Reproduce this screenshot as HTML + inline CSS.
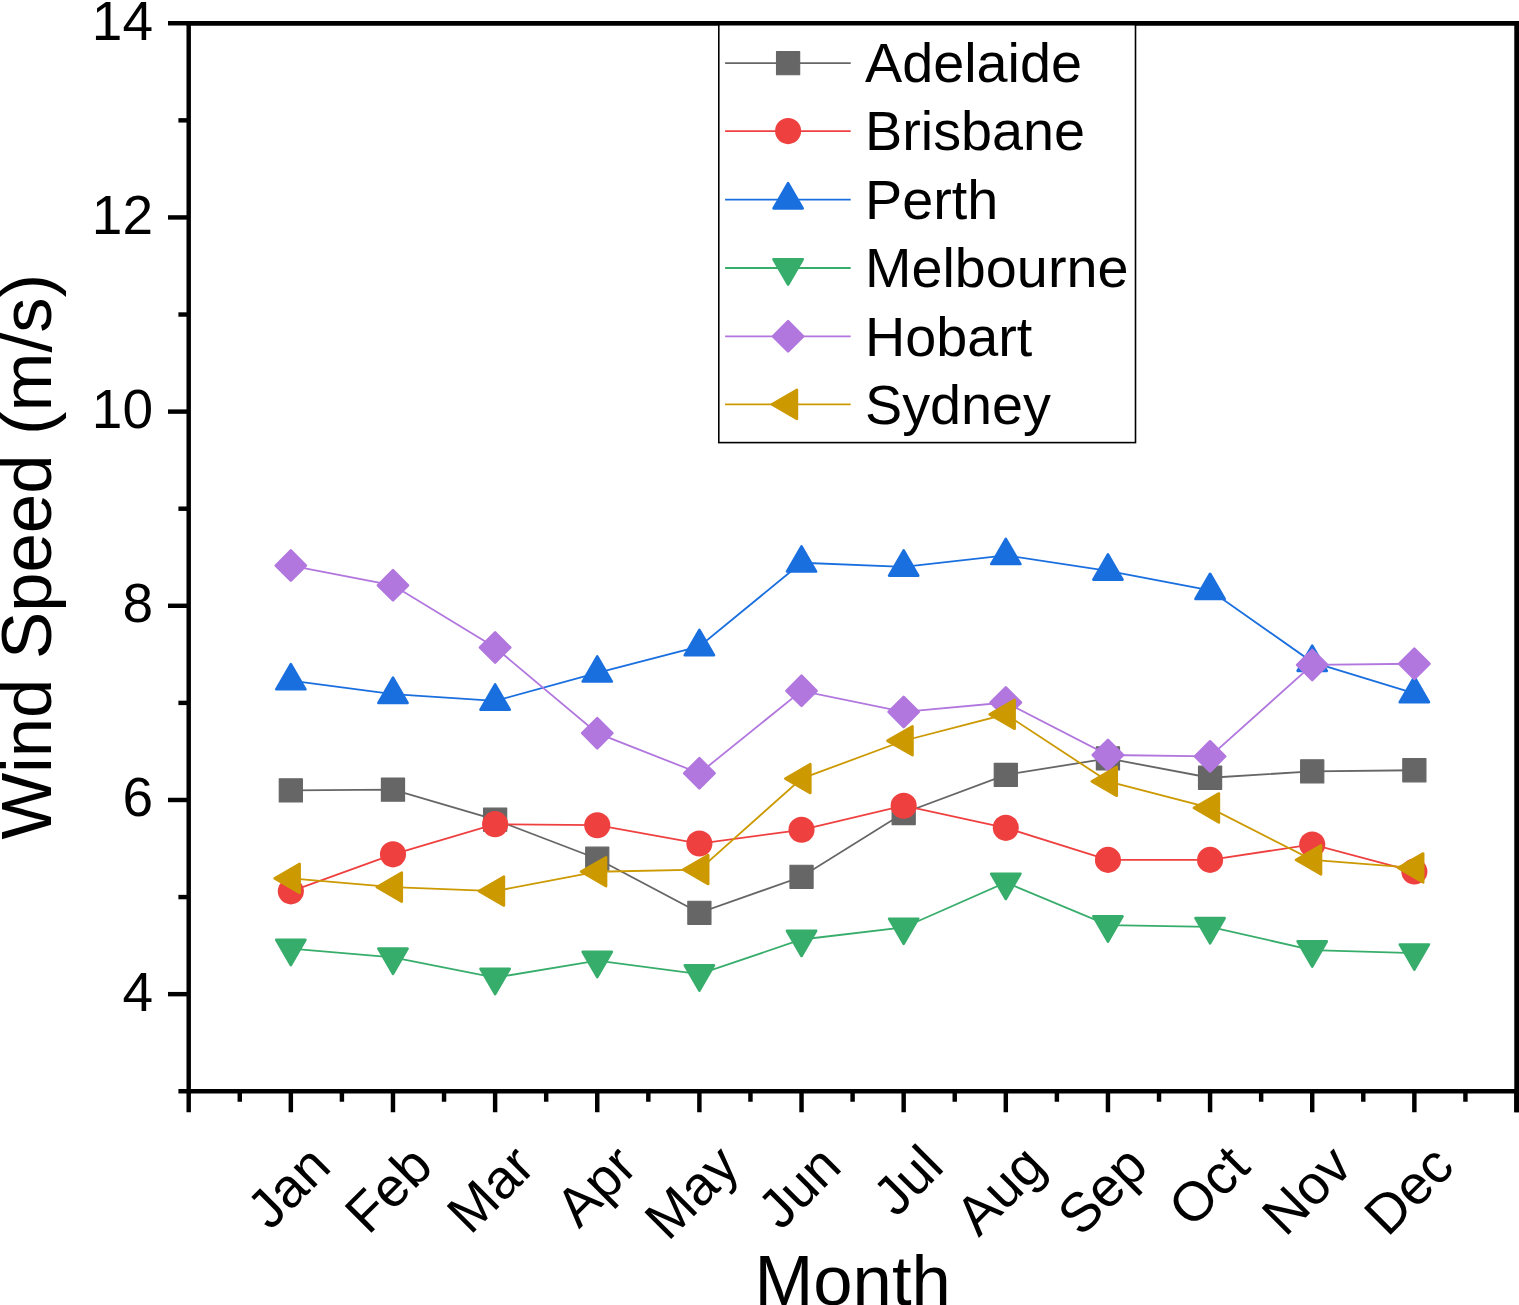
<!DOCTYPE html>
<html><head><meta charset="utf-8"><title>Wind Speed by Month</title>
<style>
html,body{margin:0;padding:0;background:#fff;}
body{width:1519px;height:1305px;overflow:hidden;}
svg{display:block;}
text{font-family:"Liberation Sans",sans-serif;fill:#000;}
.tk{font-size:55px;}
.ti{font-size:70.7px;}
</style></head><body>
<svg width="1519" height="1305" viewBox="0 0 1519 1305">
<rect width="1519" height="1305" fill="#fff"/>

<polyline points="290.84,790.37 392.98,789.59 495.12,819.69 597.25,858.72 699.39,912.80 801.53,876.78 903.67,812.99 1005.81,774.83 1107.95,758.42 1210.08,777.74 1312.22,771.34 1414.36,770.27" fill="none" stroke="#666666" stroke-width="1.8"/>
<rect x="279.29" y="778.82" width="23.1" height="23.1" fill="#666666" stroke="#666666" stroke-width="1.2" stroke-linejoin="round"/>
<rect x="381.43" y="778.04" width="23.1" height="23.1" fill="#666666" stroke="#666666" stroke-width="1.2" stroke-linejoin="round"/>
<rect x="483.57" y="808.14" width="23.1" height="23.1" fill="#666666" stroke="#666666" stroke-width="1.2" stroke-linejoin="round"/>
<rect x="585.70" y="847.17" width="23.1" height="23.1" fill="#666666" stroke="#666666" stroke-width="1.2" stroke-linejoin="round"/>
<rect x="687.84" y="901.25" width="23.1" height="23.1" fill="#666666" stroke="#666666" stroke-width="1.2" stroke-linejoin="round"/>
<rect x="789.98" y="865.23" width="23.1" height="23.1" fill="#666666" stroke="#666666" stroke-width="1.2" stroke-linejoin="round"/>
<rect x="892.12" y="801.44" width="23.1" height="23.1" fill="#666666" stroke="#666666" stroke-width="1.2" stroke-linejoin="round"/>
<rect x="994.26" y="763.28" width="23.1" height="23.1" fill="#666666" stroke="#666666" stroke-width="1.2" stroke-linejoin="round"/>
<rect x="1096.40" y="746.87" width="23.1" height="23.1" fill="#666666" stroke="#666666" stroke-width="1.2" stroke-linejoin="round"/>
<rect x="1198.53" y="766.19" width="23.1" height="23.1" fill="#666666" stroke="#666666" stroke-width="1.2" stroke-linejoin="round"/>
<rect x="1300.67" y="759.79" width="23.1" height="23.1" fill="#666666" stroke="#666666" stroke-width="1.2" stroke-linejoin="round"/>
<rect x="1402.81" y="758.72" width="23.1" height="23.1" fill="#666666" stroke="#666666" stroke-width="1.2" stroke-linejoin="round"/>
<polyline points="290.84,891.34 392.98,854.35 495.12,824.15 597.25,825.22 699.39,843.57 801.53,829.78 903.67,805.71 1005.81,827.84 1107.95,859.88 1210.08,859.88 1312.22,844.44 1414.36,871.53" fill="none" stroke="#EF4040" stroke-width="1.8"/>
<circle cx="290.84" cy="891.34" r="13.05" fill="#EF4040"/>
<circle cx="392.98" cy="854.35" r="13.05" fill="#EF4040"/>
<circle cx="495.12" cy="824.15" r="13.05" fill="#EF4040"/>
<circle cx="597.25" cy="825.22" r="13.05" fill="#EF4040"/>
<circle cx="699.39" cy="843.57" r="13.05" fill="#EF4040"/>
<circle cx="801.53" cy="829.78" r="13.05" fill="#EF4040"/>
<circle cx="903.67" cy="805.71" r="13.05" fill="#EF4040"/>
<circle cx="1005.81" cy="827.84" r="13.05" fill="#EF4040"/>
<circle cx="1107.95" cy="859.88" r="13.05" fill="#EF4040"/>
<circle cx="1210.08" cy="859.88" r="13.05" fill="#EF4040"/>
<circle cx="1312.22" cy="844.44" r="13.05" fill="#EF4040"/>
<circle cx="1414.36" cy="871.53" r="13.05" fill="#EF4040"/>
<polyline points="290.84,680.56 392.98,694.15 495.12,700.94 597.25,672.79 699.39,646.48 801.53,562.78 903.67,566.86 1005.81,555.31 1107.95,570.84 1210.08,590.26 1312.22,662.11 1414.36,693.47" fill="none" stroke="#1A6FDF" stroke-width="1.8"/>
<polygon points="290.84,664.06 305.44,689.31 276.24,689.31" fill="#1A6FDF" stroke="#1A6FDF" stroke-width="2.6" stroke-linejoin="round"/>
<polygon points="392.98,677.65 407.58,702.90 378.38,702.90" fill="#1A6FDF" stroke="#1A6FDF" stroke-width="2.6" stroke-linejoin="round"/>
<polygon points="495.12,684.44 509.72,709.69 480.52,709.69" fill="#1A6FDF" stroke="#1A6FDF" stroke-width="2.6" stroke-linejoin="round"/>
<polygon points="597.25,656.29 611.85,681.54 582.65,681.54" fill="#1A6FDF" stroke="#1A6FDF" stroke-width="2.6" stroke-linejoin="round"/>
<polygon points="699.39,629.98 713.99,655.23 684.79,655.23" fill="#1A6FDF" stroke="#1A6FDF" stroke-width="2.6" stroke-linejoin="round"/>
<polygon points="801.53,546.28 816.13,571.53 786.93,571.53" fill="#1A6FDF" stroke="#1A6FDF" stroke-width="2.6" stroke-linejoin="round"/>
<polygon points="903.67,550.36 918.27,575.61 889.07,575.61" fill="#1A6FDF" stroke="#1A6FDF" stroke-width="2.6" stroke-linejoin="round"/>
<polygon points="1005.81,538.81 1020.41,564.06 991.21,564.06" fill="#1A6FDF" stroke="#1A6FDF" stroke-width="2.6" stroke-linejoin="round"/>
<polygon points="1107.95,554.34 1122.55,579.59 1093.35,579.59" fill="#1A6FDF" stroke="#1A6FDF" stroke-width="2.6" stroke-linejoin="round"/>
<polygon points="1210.08,573.76 1224.68,599.01 1195.48,599.01" fill="#1A6FDF" stroke="#1A6FDF" stroke-width="2.6" stroke-linejoin="round"/>
<polygon points="1312.22,645.61 1326.82,670.86 1297.62,670.86" fill="#1A6FDF" stroke="#1A6FDF" stroke-width="2.6" stroke-linejoin="round"/>
<polygon points="1414.36,676.97 1428.96,702.22 1399.76,702.22" fill="#1A6FDF" stroke="#1A6FDF" stroke-width="2.6" stroke-linejoin="round"/>
<polyline points="290.84,948.62 392.98,957.36 495.12,977.65 597.25,960.66 699.39,974.06 801.53,939.50 903.67,927.46 1005.81,882.50 1107.95,925.13 1210.08,926.88 1312.22,950.08 1414.36,953.19" fill="none" stroke="#37AD6B" stroke-width="1.8"/>
<polygon points="290.84,965.12 305.44,939.87 276.24,939.87" fill="#37AD6B" stroke="#37AD6B" stroke-width="2.6" stroke-linejoin="round"/>
<polygon points="392.98,973.86 407.58,948.61 378.38,948.61" fill="#37AD6B" stroke="#37AD6B" stroke-width="2.6" stroke-linejoin="round"/>
<polygon points="495.12,994.15 509.72,968.90 480.52,968.90" fill="#37AD6B" stroke="#37AD6B" stroke-width="2.6" stroke-linejoin="round"/>
<polygon points="597.25,977.16 611.85,951.91 582.65,951.91" fill="#37AD6B" stroke="#37AD6B" stroke-width="2.6" stroke-linejoin="round"/>
<polygon points="699.39,990.56 713.99,965.31 684.79,965.31" fill="#37AD6B" stroke="#37AD6B" stroke-width="2.6" stroke-linejoin="round"/>
<polygon points="801.53,956.00 816.13,930.75 786.93,930.75" fill="#37AD6B" stroke="#37AD6B" stroke-width="2.6" stroke-linejoin="round"/>
<polygon points="903.67,943.96 918.27,918.71 889.07,918.71" fill="#37AD6B" stroke="#37AD6B" stroke-width="2.6" stroke-linejoin="round"/>
<polygon points="1005.81,899.00 1020.41,873.75 991.21,873.75" fill="#37AD6B" stroke="#37AD6B" stroke-width="2.6" stroke-linejoin="round"/>
<polygon points="1107.95,941.63 1122.55,916.38 1093.35,916.38" fill="#37AD6B" stroke="#37AD6B" stroke-width="2.6" stroke-linejoin="round"/>
<polygon points="1210.08,943.38 1224.68,918.13 1195.48,918.13" fill="#37AD6B" stroke="#37AD6B" stroke-width="2.6" stroke-linejoin="round"/>
<polygon points="1312.22,966.58 1326.82,941.33 1297.62,941.33" fill="#37AD6B" stroke="#37AD6B" stroke-width="2.6" stroke-linejoin="round"/>
<polygon points="1414.36,969.69 1428.96,944.44 1399.76,944.44" fill="#37AD6B" stroke="#37AD6B" stroke-width="2.6" stroke-linejoin="round"/>
<polyline points="290.84,565.60 392.98,585.31 495.12,647.54 597.25,733.18 699.39,773.28 801.53,690.85 903.67,711.92 1005.81,702.50 1107.95,755.02 1210.08,756.38 1312.22,664.92 1414.36,663.76" fill="none" stroke="#B177DE" stroke-width="1.8"/>
<polygon points="290.84,550.50 305.94,565.60 290.84,580.70 275.74,565.60" fill="#B177DE" stroke="#B177DE" stroke-width="2.6" stroke-linejoin="round"/>
<polygon points="392.98,570.21 408.08,585.31 392.98,600.41 377.88,585.31" fill="#B177DE" stroke="#B177DE" stroke-width="2.6" stroke-linejoin="round"/>
<polygon points="495.12,632.44 510.22,647.54 495.12,662.64 480.02,647.54" fill="#B177DE" stroke="#B177DE" stroke-width="2.6" stroke-linejoin="round"/>
<polygon points="597.25,718.08 612.35,733.18 597.25,748.28 582.15,733.18" fill="#B177DE" stroke="#B177DE" stroke-width="2.6" stroke-linejoin="round"/>
<polygon points="699.39,758.18 714.49,773.28 699.39,788.38 684.29,773.28" fill="#B177DE" stroke="#B177DE" stroke-width="2.6" stroke-linejoin="round"/>
<polygon points="801.53,675.75 816.63,690.85 801.53,705.95 786.43,690.85" fill="#B177DE" stroke="#B177DE" stroke-width="2.6" stroke-linejoin="round"/>
<polygon points="903.67,696.82 918.77,711.92 903.67,727.02 888.57,711.92" fill="#B177DE" stroke="#B177DE" stroke-width="2.6" stroke-linejoin="round"/>
<polygon points="1005.81,687.40 1020.91,702.50 1005.81,717.60 990.71,702.50" fill="#B177DE" stroke="#B177DE" stroke-width="2.6" stroke-linejoin="round"/>
<polygon points="1107.95,739.92 1123.05,755.02 1107.95,770.12 1092.85,755.02" fill="#B177DE" stroke="#B177DE" stroke-width="2.6" stroke-linejoin="round"/>
<polygon points="1210.08,741.28 1225.18,756.38 1210.08,771.48 1194.98,756.38" fill="#B177DE" stroke="#B177DE" stroke-width="2.6" stroke-linejoin="round"/>
<polygon points="1312.22,649.82 1327.32,664.92 1312.22,680.02 1297.12,664.92" fill="#B177DE" stroke="#B177DE" stroke-width="2.6" stroke-linejoin="round"/>
<polygon points="1414.36,648.66 1429.46,663.76 1414.36,678.86 1399.26,663.76" fill="#B177DE" stroke="#B177DE" stroke-width="2.6" stroke-linejoin="round"/>
<polyline points="290.84,878.33 392.98,887.16 495.12,891.05 597.25,871.73 699.39,869.59 801.53,778.62 903.67,740.75 1005.81,714.34 1107.95,781.34 1210.08,807.94 1312.22,859.88 1414.36,867.94" fill="none" stroke="#CC9900" stroke-width="1.8"/>
<polygon points="274.64,878.33 299.64,863.88 299.64,892.78" fill="#CC9900" stroke="#CC9900" stroke-width="2.6" stroke-linejoin="round"/>
<polygon points="376.78,887.16 401.78,872.71 401.78,901.61" fill="#CC9900" stroke="#CC9900" stroke-width="2.6" stroke-linejoin="round"/>
<polygon points="478.92,891.05 503.92,876.60 503.92,905.50" fill="#CC9900" stroke="#CC9900" stroke-width="2.6" stroke-linejoin="round"/>
<polygon points="581.05,871.73 606.05,857.28 606.05,886.18" fill="#CC9900" stroke="#CC9900" stroke-width="2.6" stroke-linejoin="round"/>
<polygon points="683.19,869.59 708.19,855.14 708.19,884.04" fill="#CC9900" stroke="#CC9900" stroke-width="2.6" stroke-linejoin="round"/>
<polygon points="785.33,778.62 810.33,764.17 810.33,793.07" fill="#CC9900" stroke="#CC9900" stroke-width="2.6" stroke-linejoin="round"/>
<polygon points="887.47,740.75 912.47,726.30 912.47,755.20" fill="#CC9900" stroke="#CC9900" stroke-width="2.6" stroke-linejoin="round"/>
<polygon points="989.61,714.34 1014.61,699.89 1014.61,728.79" fill="#CC9900" stroke="#CC9900" stroke-width="2.6" stroke-linejoin="round"/>
<polygon points="1091.75,781.34 1116.75,766.89 1116.75,795.79" fill="#CC9900" stroke="#CC9900" stroke-width="2.6" stroke-linejoin="round"/>
<polygon points="1193.88,807.94 1218.88,793.49 1218.88,822.39" fill="#CC9900" stroke="#CC9900" stroke-width="2.6" stroke-linejoin="round"/>
<polygon points="1296.02,859.88 1321.02,845.43 1321.02,874.33" fill="#CC9900" stroke="#CC9900" stroke-width="2.6" stroke-linejoin="round"/>
<polygon points="1398.16,867.94 1423.16,853.49 1423.16,882.39" fill="#CC9900" stroke="#CC9900" stroke-width="2.6" stroke-linejoin="round"/>
<g stroke="#000" stroke-width="4.45" fill="none" stroke-linecap="butt">
<line x1="186.475" y1="23.25" x2="1519" y2="23.25"/>
<line x1="186.475" y1="1091.25" x2="1519" y2="1091.25"/>
<line x1="188.7" y1="23.25" x2="188.7" y2="1091.25"/>
<rect x="1514.28" y="23.25" width="5.72" height="1089.0" fill="#000" stroke="none"/>
<line x1="178.40" y1="1091.25" x2="188.70" y2="1091.25"/>
<line x1="168.00" y1="994.16" x2="188.70" y2="994.16"/>
<line x1="178.40" y1="897.07" x2="188.70" y2="897.07"/>
<line x1="168.00" y1="799.98" x2="188.70" y2="799.98"/>
<line x1="178.40" y1="702.89" x2="188.70" y2="702.89"/>
<line x1="168.00" y1="605.80" x2="188.70" y2="605.80"/>
<line x1="178.40" y1="508.70" x2="188.70" y2="508.70"/>
<line x1="168.00" y1="411.61" x2="188.70" y2="411.61"/>
<line x1="178.40" y1="314.52" x2="188.70" y2="314.52"/>
<line x1="168.00" y1="217.43" x2="188.70" y2="217.43"/>
<line x1="178.40" y1="120.34" x2="188.70" y2="120.34"/>
<line x1="168.00" y1="23.25" x2="188.70" y2="23.25"/>
<line x1="188.70" y1="1091.25" x2="188.70" y2="1112.25"/>
<line x1="239.77" y1="1091.25" x2="239.77" y2="1101.75"/>
<line x1="290.84" y1="1091.25" x2="290.84" y2="1112.25"/>
<line x1="341.91" y1="1091.25" x2="341.91" y2="1101.75"/>
<line x1="392.98" y1="1091.25" x2="392.98" y2="1112.25"/>
<line x1="444.05" y1="1091.25" x2="444.05" y2="1101.75"/>
<line x1="495.12" y1="1091.25" x2="495.12" y2="1112.25"/>
<line x1="546.18" y1="1091.25" x2="546.18" y2="1101.75"/>
<line x1="597.25" y1="1091.25" x2="597.25" y2="1112.25"/>
<line x1="648.32" y1="1091.25" x2="648.32" y2="1101.75"/>
<line x1="699.39" y1="1091.25" x2="699.39" y2="1112.25"/>
<line x1="750.46" y1="1091.25" x2="750.46" y2="1101.75"/>
<line x1="801.53" y1="1091.25" x2="801.53" y2="1112.25"/>
<line x1="852.60" y1="1091.25" x2="852.60" y2="1101.75"/>
<line x1="903.67" y1="1091.25" x2="903.67" y2="1112.25"/>
<line x1="954.74" y1="1091.25" x2="954.74" y2="1101.75"/>
<line x1="1005.81" y1="1091.25" x2="1005.81" y2="1112.25"/>
<line x1="1056.88" y1="1091.25" x2="1056.88" y2="1101.75"/>
<line x1="1107.95" y1="1091.25" x2="1107.95" y2="1112.25"/>
<line x1="1159.02" y1="1091.25" x2="1159.02" y2="1101.75"/>
<line x1="1210.08" y1="1091.25" x2="1210.08" y2="1112.25"/>
<line x1="1261.15" y1="1091.25" x2="1261.15" y2="1101.75"/>
<line x1="1312.22" y1="1091.25" x2="1312.22" y2="1112.25"/>
<line x1="1363.29" y1="1091.25" x2="1363.29" y2="1101.75"/>
<line x1="1414.36" y1="1091.25" x2="1414.36" y2="1112.25"/>
<line x1="1465.43" y1="1091.25" x2="1465.43" y2="1101.75"/>
<line x1="1516.50" y1="1091.25" x2="1516.50" y2="1112.25"/>
</g>
<text class="tk" x="153.0" y="1010.56" text-anchor="end">4</text>
<text class="tk" x="153.0" y="816.38" text-anchor="end">6</text>
<text class="tk" x="153.0" y="622.20" text-anchor="end">8</text>
<text class="tk" x="153.0" y="428.01" text-anchor="end">10</text>
<text class="tk" x="153.0" y="233.83" text-anchor="end">12</text>
<text class="tk" x="153.0" y="39.65" text-anchor="end">14</text>
<text class="tk" text-anchor="end" transform="translate(333.04,1168.90) rotate(-45)">Jan</text>
<text class="tk" text-anchor="end" transform="translate(435.18,1168.90) rotate(-45)">Feb</text>
<text class="tk" text-anchor="end" transform="translate(537.32,1168.90) rotate(-45)">Mar</text>
<text class="tk" text-anchor="end" transform="translate(639.45,1168.90) rotate(-45)">Apr</text>
<text class="tk" text-anchor="end" transform="translate(741.59,1168.90) rotate(-45)">May</text>
<text class="tk" text-anchor="end" transform="translate(843.73,1168.90) rotate(-45)">Jun</text>
<text class="tk" text-anchor="end" transform="translate(945.87,1168.90) rotate(-45)">Jul</text>
<text class="tk" text-anchor="end" transform="translate(1048.01,1168.90) rotate(-45)">Aug</text>
<text class="tk" text-anchor="end" transform="translate(1150.15,1168.90) rotate(-45)">Sep</text>
<text class="tk" text-anchor="end" transform="translate(1252.28,1168.90) rotate(-45)">Oct</text>
<text class="tk" text-anchor="end" transform="translate(1354.42,1168.90) rotate(-45)">Nov</text>
<text class="tk" text-anchor="end" transform="translate(1456.56,1168.90) rotate(-45)">Dec</text>
<text class="ti" text-anchor="middle" transform="translate(852.6,1304.8) scale(1,1.005)">Month</text>
<text class="ti" text-anchor="middle" transform="translate(51.0,556.8) rotate(-90) scale(1,1.005)">Wind Speed (m/s)</text>
<rect x="718.8" y="23.25" width="416.70000000000005" height="419.35" fill="#fff" stroke="#000" stroke-width="1.6"/>
<line x1="188.7" y1="23.25" x2="1519" y2="23.25" stroke="#000" stroke-width="4.45"/>
<line x1="725.1" y1="63.2" x2="850.7" y2="63.2" stroke="#666666" stroke-width="1.8"/>
<rect x="776.55" y="51.65" width="23.1" height="23.1" fill="#666666" stroke="#666666" stroke-width="1.2" stroke-linejoin="round"/>
<text class="tk" transform="translate(865.0,82.40) scale(1.014,1)">Adelaide</text>
<line x1="725.1" y1="131.1" x2="850.7" y2="131.1" stroke="#EF4040" stroke-width="1.8"/>
<circle cx="788.10" cy="131.10" r="13.05" fill="#EF4040"/>
<text class="tk" transform="translate(865.0,150.30) scale(1.014,1)">Brisbane</text>
<line x1="725.1" y1="199.6" x2="850.7" y2="199.6" stroke="#1A6FDF" stroke-width="1.8"/>
<polygon points="788.10,183.10 802.70,208.35 773.50,208.35" fill="#1A6FDF" stroke="#1A6FDF" stroke-width="2.6" stroke-linejoin="round"/>
<text class="tk" transform="translate(865.0,218.80) scale(1.014,1)">Perth</text>
<line x1="725.1" y1="268.0" x2="850.7" y2="268.0" stroke="#37AD6B" stroke-width="1.8"/>
<polygon points="788.10,284.50 802.70,259.25 773.50,259.25" fill="#37AD6B" stroke="#37AD6B" stroke-width="2.6" stroke-linejoin="round"/>
<text class="tk" transform="translate(865.0,287.20) scale(1.014,1)">Melbourne</text>
<line x1="725.1" y1="336.3" x2="850.7" y2="336.3" stroke="#B177DE" stroke-width="1.8"/>
<polygon points="788.10,321.20 803.20,336.30 788.10,351.40 773.00,336.30" fill="#B177DE" stroke="#B177DE" stroke-width="2.6" stroke-linejoin="round"/>
<text class="tk" transform="translate(865.0,355.50) scale(1.014,1)">Hobart</text>
<line x1="725.1" y1="404.4" x2="850.7" y2="404.4" stroke="#CC9900" stroke-width="1.8"/>
<polygon points="771.90,404.40 796.90,389.95 796.90,418.85" fill="#CC9900" stroke="#CC9900" stroke-width="2.6" stroke-linejoin="round"/>
<text class="tk" transform="translate(865.0,423.60) scale(1.014,1)">Sydney</text>
</svg></body></html>
